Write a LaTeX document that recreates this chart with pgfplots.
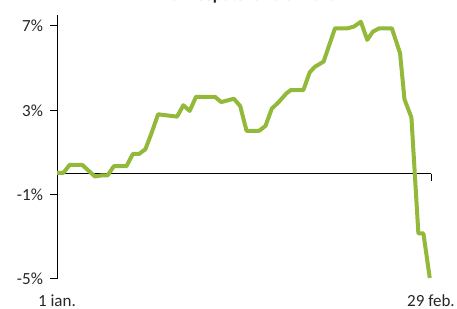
\documentclass[border=0pt]{standalone}
\usepackage{pgfplots}
\pgfplotsset{compat=1.18}
\usepackage{fontspec}
\setmainfont{Carlito}
\definecolor{lgreen}{RGB}{146,185,58}
\definecolor{txt}{RGB}{38,38,38}
\begin{document}
\begin{tikzpicture}[font=\fontsize{8.5}{10}\selectfont]
\begin{axis}[name=ax, scale only axis, width=187pt, height=132pt,
  xmin=0, xmax=59.2, ymin=-5, ymax=7.52,
  axis y line=left, axis x line=middle,
  axis line style={-, black, line width=0.5pt},
  ytick={-5,-1,3,7}, yticklabels={-5\%,-1\%,3\%,7\%},
  xtick=\empty,
  tick align=outside, major tick length=3.5pt,
  tick style={black, line width=0.5pt},
  yticklabel style={font=\fontsize{8.5}{10}\selectfont, text=txt},
  clip=false,
]
\addplot[lgreen, line width=2pt, line join=round] coordinates {
(0,0.03) (1,0.03) (2,0.41) (4,0.41) (6,-0.14) (7,-0.09) (8,-0.09)
(9,0.35) (11,0.35) (12,0.93) (13,0.93) (14,1.16) (15,1.95) (16,2.81)
(19,2.70) (20,3.24) (21,2.97) (22,3.64) (25,3.64) (26,3.39) (28,3.55)
(29,3.20) (30,2.03) (32,2.03) (33,2.26) (34,3.08) (35,3.36) (36.3,3.80)
(37,3.96) (39,3.96) (40,4.80) (40.8,5.06) (42.2,5.31) (44,6.89) (46,6.89)
(47,6.97) (48.1,7.20) (49.1,6.34) (50,6.73) (51,6.89) (53,6.89)
(54.3,5.71) (55,3.52) (56.1,2.66) (57.2,-2.84) (58,-2.84) (59,-4.95)
};
\draw[black, line width=0.5pt] (axis cs:59.2,0) -- ([yshift=-3.5pt]axis cs:59.2,0);
\node[anchor=base, text=txt] at ([yshift=-14pt]axis cs:0,-5) {1 ian.};
\node[anchor=base, text=txt] at ([yshift=-14pt]axis cs:59.2,-5) {29 feb.};
\end{axis}
\node[anchor=base, text=txt, font=\fontsize{8.5}{10}\selectfont\bfseries] at ([shift={(97.5pt,7pt)}]ax.north west) {la începutul anului 2020};
\pgfresetboundingbox
\useasboundingbox ([shift={(-28.5pt,-15pt)}]ax.south west) rectangle ([shift={(13pt,7.5pt)}]ax.north east);
\end{tikzpicture}
\end{document}
